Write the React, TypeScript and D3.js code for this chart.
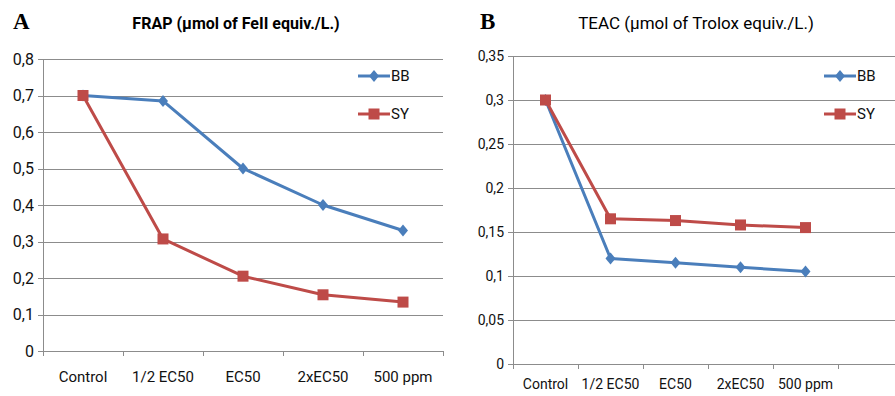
import { useEffect, useRef } from "react";
import * as d3 from "d3";

// categories
const categoriesA = ["Control", "1/2 EC50", "EC50", "2xEC50", "500 ppm"];
const categoriesB = ["Control", "1/2 EC50", "EC50", "2xEC50", "500 ppm", ""];

// FRAP values
const frapBB = [0.70, 0.685, 0.50, 0.40, 0.33];
const frapSY = [0.70, 0.307, 0.205, 0.154, 0.134];

// TEAC values
const teacBB = [0.30, 0.12, 0.115, 0.11, 0.105];
const teacSY = [0.30, 0.165, 0.163, 0.158, 0.155];

const seriesNames = ["BB", "SY"];
const seriesColors = ["#4A7EBB", "#BE4B48"];

const fontFamily = "Roboto, 'Open Sans', Arial, sans-serif";

const commaFmt = (v: number) => String(+v.toFixed(2)).replace(".", ",");

type Panel = {
  letter: string;
  title: string;
  titleWeight: string;
  titleSize: number;
  cats: string[];
  series: number[][];
  yMax: number;
  yStep: number;
  left: number;
  right: number;
  top: number;
  bottom: number;
  letterX: number;
  titleX: number;
  tickSize: number;
  catSize: number;
  catDy: number;
  legendX: number;
};

function drawPanel(svg: d3.Selection<SVGSVGElement, unknown, null, undefined>, p: Panel) {
  const g = svg.append("g");
  const keys = p.cats.map((c, i) => c + "_" + i);
  const x = d3.scaleBand<string>().domain(keys).range([p.left, p.right]).padding(0);
  const y = d3.scaleLinear().domain([0, p.yMax]).range([p.bottom, p.top]);
  const yTicks = d3.range(0, p.yMax + p.yStep / 2, p.yStep);
  const gridRight = Math.min(p.right, 895);

  // letter + title
  g.append("text")
    .attr("x", p.letterX)
    .attr("y", 29)
    .attr("font-family", "'Liberation Serif', 'Times New Roman', serif")
    .attr("font-weight", "bold")
    .attr("font-size", 23)
    .text(p.letter);
  g.append("text")
    .attr("x", p.titleX)
    .attr("y", 29)
    .attr("text-anchor", "middle")
    .attr("font-family", fontFamily)
    .attr("font-weight", p.titleWeight)
    .attr("font-size", p.titleSize)
    .text(p.title);

  // gridlines
  g.selectAll(".grid")
    .data(yTicks.slice(1))
    .enter()
    .append("line")
    .attr("x1", p.left)
    .attr("x2", gridRight)
    .attr("y1", (d) => Math.round(y(d)) + 0.5)
    .attr("y2", (d) => Math.round(y(d)) + 0.5)
    .attr("stroke", "#8C8C8C")
    .attr("stroke-width", 1);

  // y axis
  g.append("line")
    .attr("x1", p.left + 0.5)
    .attr("x2", p.left + 0.5)
    .attr("y1", y(p.yMax))
    .attr("y2", p.bottom)
    .attr("stroke", "#8C8C8C");
  g.selectAll(".ytick")
    .data(yTicks)
    .enter()
    .append("line")
    .attr("x1", p.left - 5)
    .attr("x2", p.left)
    .attr("y1", (d) => Math.round(y(d)) + 0.5)
    .attr("y2", (d) => Math.round(y(d)) + 0.5)
    .attr("stroke", "#8C8C8C");
  g.selectAll(".ylab")
    .data(yTicks)
    .enter()
    .append("text")
    .attr("x", p.left - 9)
    .attr("y", (d) => y(d))
    .attr("dy", "0.35em")
    .attr("text-anchor", "end")
    .attr("font-family", fontFamily)
    .attr("font-size", p.tickSize)
    .attr("fill", "#111")
    .text((d) => commaFmt(d));

  // x axis
  g.append("line")
    .attr("x1", p.left)
    .attr("x2", gridRight)
    .attr("y1", Math.round(p.bottom) + 0.5)
    .attr("y2", Math.round(p.bottom) + 0.5)
    .attr("stroke", "#8C8C8C");
  const boundaries = keys.map((k) => x(k) as number).concat([p.right]);
  g.selectAll(".xtick")
    .data(boundaries)
    .enter()
    .append("line")
    .attr("x1", (d) => Math.round(d) + 0.5)
    .attr("x2", (d) => Math.round(d) + 0.5)
    .attr("y1", p.bottom)
    .attr("y2", p.bottom + 5)
    .attr("stroke", "#8C8C8C");
  g.selectAll(".xlab")
    .data(keys)
    .enter()
    .append("text")
    .attr("x", (d) => (x(d) as number) + x.bandwidth() / 2)
    .attr("y", p.bottom + p.catDy)
    .attr("text-anchor", "middle")
    .attr("font-family", fontFamily)
    .attr("font-size", p.catSize)
    .attr("fill", "#111")
    .text((d, i) => p.cats[i]);

  const cx = (i: number) => (x(keys[i]) as number) + x.bandwidth() / 2;

  const drawMarker = (sel: any, s: number, px: number, py: number) => {
    if (s === 0) {
      sel.append("path")
        .attr("d", `M${px},${py - 6}L${px + 5},${py}L${px},${py + 6}L${px - 5},${py}Z`)
        .attr("fill", seriesColors[s]);
    } else {
      sel.append("rect")
        .attr("x", px - 5.5)
        .attr("y", py - 5.5)
        .attr("width", 11)
        .attr("height", 11)
        .attr("fill", seriesColors[s]);
    }
  };

  // series (BB drawn first, SY on top)
  p.series.forEach((vals, s) => {
    const line = d3
      .line<number>()
      .x((d, i) => cx(i))
      .y((d) => y(d));
    g.append("path")
      .datum(vals)
      .attr("fill", "none")
      .attr("stroke", seriesColors[s])
      .attr("stroke-width", 3)
      .attr("stroke-linejoin", "round")
      .attr("d", line);
    const mg = g.append("g");
    vals.forEach((v, i) => drawMarker(mg, s, cx(i), y(v)));
  });

  // legend
  const legendY = [76, 114];
  seriesNames.forEach((name, s) => {
    const lg = g.append("g");
    lg.append("line")
      .attr("x1", p.legendX)
      .attr("x2", p.legendX + 32)
      .attr("y1", legendY[s])
      .attr("y2", legendY[s])
      .attr("stroke", seriesColors[s])
      .attr("stroke-width", 3);
    drawMarker(lg, s, p.legendX + 16, legendY[s]);
    lg.append("text")
      .attr("x", p.legendX + 33)
      .attr("y", legendY[s])
      .attr("dy", "0.35em")
      .attr("font-family", fontFamily)
      .attr("font-size", 15)
      .attr("fill", "#111")
      .text(name);
  });
}

export default function App() {
  const ref = useRef<SVGSVGElement>(null);

  useEffect(() => {
    if (!ref.current) return;
    const svg = d3.select(ref.current);
    svg.selectAll("*").remove();

    drawPanel(svg, {
      letter: "A",
      title: "FRAP (µmol of FeII equiv./L.)",
      titleWeight: "bold",
      titleSize: 16,
      cats: categoriesA,
      series: [frapBB, frapSY],
      yMax: 0.8,
      yStep: 0.1,
      left: 43,
      right: 443,
      top: 59,
      bottom: 351,
      letterX: 13,
      titleX: 236,
      tickSize: 16,
      catSize: 15,
      catDy: 31,
      legendX: 358,
    });

    drawPanel(svg, {
      letter: "B",
      title: "TEAC (µmol of Trolox equiv./L.)",
      titleWeight: "normal",
      titleSize: 17,
      cats: categoriesB,
      series: [teacBB, teacSY],
      yMax: 0.35,
      yStep: 0.05,
      left: 513,
      right: 903,
      top: 56,
      bottom: 364,
      letterX: 480,
      titleX: 696,
      tickSize: 14,
      catSize: 14,
      catDy: 25,
      legendX: 824,
    });
  }, []);

  return (
    <svg
      ref={ref}
      width={895}
      height={396}
      style={{ position: "absolute", left: 0, top: 0, background: "#fff", display: "block" }}
    />
  );
}
